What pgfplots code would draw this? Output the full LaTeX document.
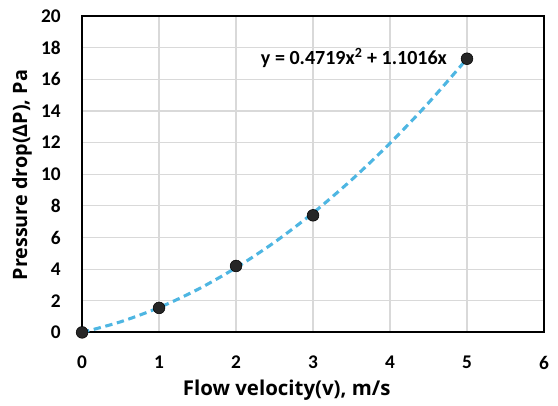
\documentclass[border=0pt]{standalone}
\usepackage{pgfplots}
\pgfplotsset{compat=1.18}
\usepackage{fontspec}
\setmainfont{Carlito}
\newfontfamily\labfont{Open Sans}
\definecolor{fitblue}{RGB}{78,182,226}
\definecolor{gridgray}{RGB}{217,217,217}

\begin{document}
\begin{tikzpicture}
\begin{axis}[
  scale only axis,
  width=346pt, height=237pt,
  xmin=0, xmax=6, ymin=0, ymax=20,
  xtick={0,1,...,6}, ytick={0,2,...,20},
  grid=major,
  major grid style={gridgray, line width=0.9pt},
  axis line style={black, line width=1.6pt},
  major tick length=0pt,
  /pgf/number format/assume math mode=true,
  tick label style={font=\fontsize{14.5}{16}\selectfont\bfseries},
  xticklabel style={yshift=-14pt},
  yticklabel style={xshift=-12.5pt},
  xlabel={Flow velocity(v), m/s},
  ylabel={Pressure drop(ΔP), Pa},
  xlabel style={font=\labfont\fontsize{15.3}{17}\selectfont\bfseries,
    at={([yshift=-43.5pt]rel axis cs:0.443,0)}, anchor=center},
  ylabel style={font=\labfont\fontsize{14.8}{16}\selectfont\bfseries,
    at={([xshift=-45pt]rel axis cs:0,0.497)}, anchor=center},
  clip=false,
]
  % trendline
  \addplot[fitblue, line width=2.3pt, dash pattern=on 5.5pt off 3.5pt, smooth] coordinates {
    (0,0) (0.5,0.67) (1,1.57) (1.5,2.71) (2,4.09) (2.5,5.70)
    (3,7.55) (3.5,9.64) (4,11.96) (4.5,14.51) (5,17.30)
  };
  % measured points
  \addplot[only marks, mark=*, mark size=4.4pt, mark options={fill=black!85, draw=black}] coordinates {
    (0,0) (1,1.55) (2,4.2) (3,7.4) (5,17.3)
  };
  \node[anchor=east, font=\fontsize{15}{17}\selectfont\bfseries] at (axis cs:4.8,17.35)
    {y = 0.4719x\textsuperscript{2} + 1.1016x};
  % whitespace round the chart, as in the reference
  \path (rel axis cs:0,1) ++(-61.5pt,12pt) (rel axis cs:1,0) ++(10.5pt,-55pt);
\end{axis}
\end{tikzpicture}
\end{document}
